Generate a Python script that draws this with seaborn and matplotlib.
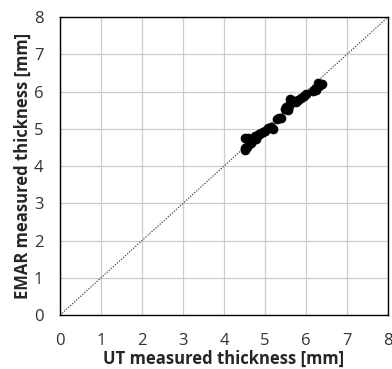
import matplotlib
matplotlib.use("Agg")
import matplotlib.pyplot as plt
import seaborn as sns
import pandas as pd

# UT vs EMAR thickness readings [mm]
ut_mm = [4.50, 4.52, 4.55, 4.50, 4.58, 4.62, 4.65, 4.70, 4.75, 4.78, 4.82, 4.86,
         4.90, 4.95, 5.00, 5.08, 5.15, 5.20, 5.30, 5.35, 5.40, 5.48, 5.52, 5.55,
         5.58, 5.60, 5.62, 5.66, 5.70, 5.75, 5.80, 5.88, 5.95, 6.00, 6.18, 6.22,
         6.25, 6.30, 6.32, 6.40]
emar_mm = [4.42, 4.48, 4.50, 4.75, 4.75, 4.58, 4.62, 4.70, 4.80, 4.72, 4.82, 4.85,
           4.88, 4.92, 4.95, 5.02, 5.05, 5.00, 5.25, 5.28, 5.30, 5.52, 5.58, 5.50,
           5.62, 5.80, 5.70, 5.72, 5.75, 5.72, 5.78, 5.82, 5.88, 5.92, 6.02, 6.08,
           6.05, 6.22, 6.15, 6.20]
ticks = [0, 1, 2, 3, 4, 5, 6, 7, 8]

df = pd.DataFrame({"UT": ut_mm, "EMAR": emar_mm})

sns.set_style("white")
plt.rcParams["font.family"] = ["Open Sans", "DejaVu Sans"]

fig = plt.figure(figsize=(3.92, 3.69), dpi=100)
ax = fig.add_axes([0.153, 0.146, 0.837, 0.808])

ax.plot([0, 8], [0, 8], linestyle=(0, (1, 1.2)), color="#444444", linewidth=0.9, zorder=2)
sns.scatterplot(data=df, x="UT", y="EMAR", ax=ax, color="black", s=42,
                edgecolor="black", linewidth=0.5, zorder=3, legend=False)

ax.set_xlim(0, 8)
ax.set_ylim(0, 8)
ax.set_xticks(ticks)
ax.set_yticks(ticks)
ax.grid(True, color="#cccccc", linewidth=0.9)
ax.set_axisbelow(True)
for sp in ax.spines.values():
    sp.set_color("black")
    sp.set_linewidth(1.0)
ax.tick_params(axis="both", which="both", length=0, labelsize=12, colors="#333333")
ax.tick_params(axis="x", pad=13)
ax.tick_params(axis="y", pad=12)
ax.set_xlabel("UT measured thickness [mm]", fontsize=12, fontweight="bold", labelpad=0.5)
ax.set_ylabel("EMAR measured thickness [mm]", fontsize=12, fontweight="bold", labelpad=1)

fig.savefig("out.png", dpi=100)
